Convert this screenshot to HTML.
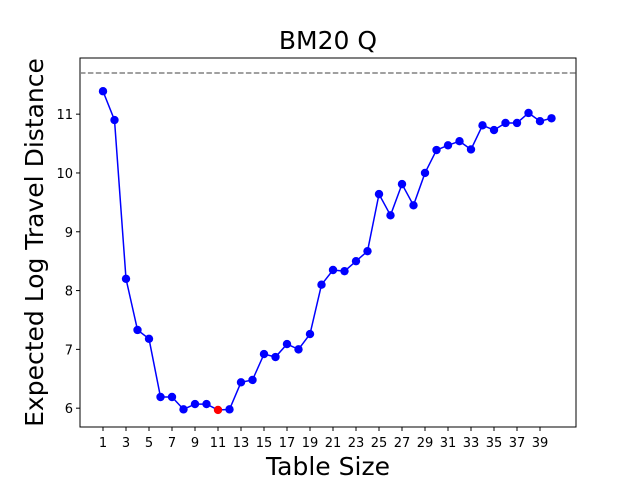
<!DOCTYPE html>
<html><head><meta charset="utf-8"><style>body{margin:0;background:#fff}svg{display:block}text{font-family:"DejaVu Sans","Liberation Sans",sans-serif}</style></head>
<body>
<svg id="chart" width="640" height="480"></svg>
<script>
const sizes=[];for(let i=1;i<=40;i++)sizes.push(i);
const values=[11.39,10.9,8.2,7.33,7.18,6.19,6.19,5.98,6.07,6.07,5.97,5.98,6.44,6.48,6.92,6.87,7.09,7.0,7.26,8.1,8.35,8.33,8.5,8.67,9.64,9.28,9.81,9.45,10.0,10.39,10.47,10.54,10.4,10.81,10.73,10.85,10.85,11.02,10.88,10.93];
const bestIndex=10;
const refValue=11.70;
const yTicks=[6,7,8,9,10,11];
const xTicks=[1,3,5,7,9,11,13,15,17,19,21,23,25,27,29,31,33,35,37,39];
const L=80,R=576,T=58,B=427;
const xMin=-1,xMax=42.13,yMin=5.68,yMax=11.955;
const sx=v=>L+(v-xMin)/(xMax-xMin)*(R-L);
const sy=v=>B-(v-yMin)/(yMax-yMin)*(B-T);
const svg=document.getElementById('chart');const NS='http://www.w3.org/2000/svg';
function mk(t,a,txt){const e=document.createElementNS(NS,t);for(const k in a)e.setAttribute(k,a[k]);if(txt!==undefined)e.textContent=txt;svg.appendChild(e);return e;}
let e;
e=mk('rect',{x:L,y:T,width:R-L,height:B-T,fill:'none',stroke:'#000','stroke-width':1});

yTicks.forEach(v=>{const y=sy(v);
 e=mk('line',{x1:L-4,x2:L,y1:y,y2:y,stroke:'#000'});
 e=mk('text',{x:L-7,y:y+5,'text-anchor':'end','font-size':13},v);});
xTicks.forEach(v=>{const x=sx(v);
 e=mk('line',{x1:x,x2:x,y1:B,y2:B+4,stroke:'#000'});
 e=mk('text',{x:x,y:B+20,'text-anchor':'middle','font-size':13},v);});
e=mk('line',{x1:L,x2:R,y1:sy(refValue),y2:sy(refValue),stroke:'#808080','stroke-width':1.5,'stroke-dasharray':'5.5,2.4'});

e=mk('polyline',{points:values.map((v,i)=>sx(sizes[i])+','+sy(v)).join(' '),fill:'none',stroke:'#0000ff','stroke-width':1.5});

values.forEach((v,i)=>{e=mk('circle',{cx:sx(sizes[i]),cy:sy(v),r:4.2,fill:i===bestIndex?'#ff0000':'#0000ff'});
 });
e=mk('text',{x:(L+R)/2,y:49,'text-anchor':'middle','font-size':25},'BM20 Q');
e=mk('text',{x:(L+R)/2,y:475,'text-anchor':'middle','font-size':25},'Table Size');
e=mk('text',{x:0,y:0,'text-anchor':'middle','font-size':25,transform:'translate(43,'+((T+B)/2)+') rotate(-90)'},'Expected Log Travel Distance');
</script>
</body></html>
